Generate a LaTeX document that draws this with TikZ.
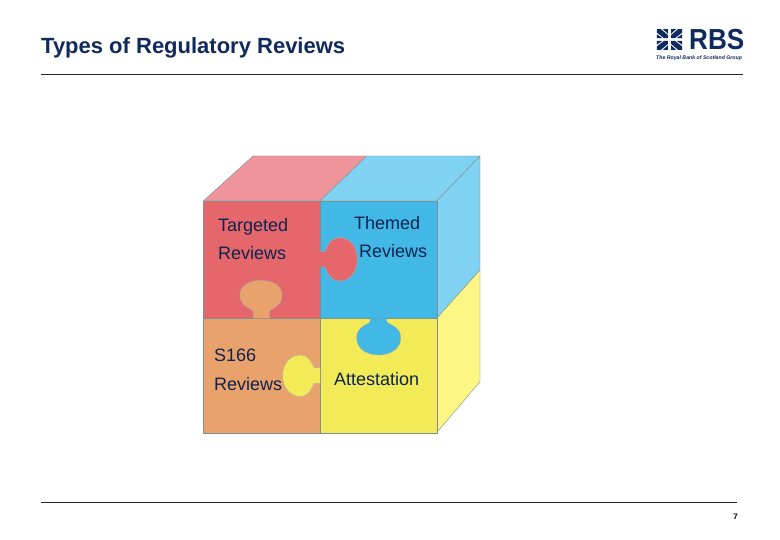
\documentclass[tikz,border=0pt]{standalone}
\usepackage{fontspec}
\setmainfont{Liberation Sans}
\definecolor{navy}{HTML}{0F2A5C}
\definecolor{rulec}{HTML}{1A2A3A}
\definecolor{redf}{HTML}{E5676B}
\definecolor{redt}{HTML}{EF949A}
\definecolor{bluef}{HTML}{41B8E6}
\definecolor{bluet}{HTML}{7FD2F2}
\definecolor{oranf}{HTML}{EAA26C}
\definecolor{yelf}{HTML}{F3EA58}
\definecolor{yels}{HTML}{FDF584}
\definecolor{edgec}{HTML}{7F9090}
\tikzset{
  face/.style={draw=edgec,line width=.4pt,line join=round},
  lab/.style={font=\fontsize{18}{20}\selectfont,text=navy!85!black,anchor=base west,inner sep=0pt},
  hrule/.style={draw=rulec,line width=.8pt},
  logomark/.style={fill=navy,draw=none},
  tab/.style={draw=edgec!70!white,line width=.4pt},
}
\begin{document}
\begin{tikzpicture}[x=1pt,y=-1pt]
\useasboundingbox[fill=white] (0,0) rectangle (780,540);
% title and rules
\node[font=\fontsize{22}{24}\selectfont\bfseries,text=navy,anchor=base west,inner sep=0pt] (title) at (41,54) {Types of Regulatory Reviews};
\coordinate (r1a) at (41,74); \coordinate (r1b) at (743,74);
\coordinate (r2a) at (41,502); \coordinate (r2b) at (737,502);
\draw[hrule] (r1a) -- (r1b);
\draw[hrule] (r2a) -- (r2b);
\node[font=\fontsize{8}{10}\selectfont\bfseries,text=black,anchor=base east,inner sep=0pt] (pg) at (738,519) {7};
% cube faces
\fill[redt,face] (203.3,201) -- (253,156) -- (366.7,156) -- (320,201) -- cycle;
\fill[bluet,face] (320,201) -- (366.7,156) -- (480,156) -- (436.7,201) -- cycle;
\fill[bluet,face] (436.7,201) -- (480,156) -- (480,270) -- (436.7,318.3) -- cycle;
\fill[yels,face] (436.7,318.3) -- (480,270) -- (480,381.7) -- (436.7,432.7) -- cycle;
\fill[redf,face] (203.3,201) rectangle (320,318.3);
\fill[bluef,face] (320,201) rectangle (436.7,318.3);
\fill[oranf,face] (203.3,318.3) rectangle (320,432.7);
\fill[yelf,face] (320,318.3) rectangle (436.7,432.7);
% puzzle tabs
\fill[redf,tab] (320,251.7) -- (324,251.7) .. controls (327,251.7) and (327,237.6) .. (340,237.6)
  .. controls (351,237.6) and (357.2,248) .. (357.2,259.3) .. controls (357.2,271) and (351,281) .. (340,281)
  .. controls (327,281) and (327,266.8) .. (324,266.8) -- (320,266.8);
\fill[oranf,tab] (253.3,318.3) -- (253.3,312) .. controls (253.3,308) and (240,308) .. (240,295)
  .. controls (240,286) and (249,280.5) .. (261,280.5) .. controls (273,280.5) and (282,286) .. (282,295)
  .. controls (282,308) and (269.3,308) .. (269.3,312) -- (269.3,318.3);
\fill[bluef,tab] (370,318.3) -- (370,321) .. controls (370,325) and (356.7,325) .. (356.7,338)
  .. controls (356.7,349) and (367,355) .. (378.7,355) .. controls (390,355) and (400.7,349) .. (400.7,338)
  .. controls (400.7,325) and (386.7,325) .. (386.7,321) -- (386.7,318.3);
\fill[yelf,tab] (320,367.7) -- (315,367.7) .. controls (312,367.7) and (312,355) .. (300,355)
  .. controls (290,355) and (282.5,364) .. (282.5,375.7) .. controls (282.5,387) and (290,396.5) .. (300,396.5)
  .. controls (312,396.5) and (312,383.3) .. (315,383.3) -- (320,383.3);
% labels
\node[lab] (t1) at (218,232) {Targeted};
\node[lab] (t2) at (218,260) {Reviews};
\node[lab] (t3) at (354,230) {Themed};
\node[lab] (t4) at (359,258) {Reviews};
\node[lab] (t5) at (214,362) {S166};
\node[lab] (t6) at (214,390) {Reviews};
\node[lab] (t7) at (334,385) {Attestation};
% logo
\node[font=\fontsize{29}{30}\selectfont\bfseries,text=navy,anchor=base west,inner sep=0pt,xscale=.9] (rbs) at (689,50) {RBS};
\node[font=\fontsize{5.2}{6}\selectfont\itshape\bfseries,text=navy,anchor=base west,inner sep=0pt] (tag) at (656,60) {The Royal Bank of Scotland Group};
\foreach \sx in {1,-1}{\foreach \sy in {1,-1}{
 \begin{scope}[shift={(669.5,39.5)},xscale=\sx*1.08,yscale=\sy*.88]
  \fill[logomark] (1.5,1.5) -- (5,1.5) -- (11.8,8) -- (11.8,11.8) -- (8,11.8) -- (1.5,5) -- cycle;
  \fill[logomark] (6.5,1.5) -- (11.8,1.5) -- (11.8,6) -- cycle;
  \fill[logomark] (1.5,6.5) -- (1.5,11.8) -- (6,11.8) -- cycle;
 \end{scope}
}}
\end{tikzpicture}
\end{document}
